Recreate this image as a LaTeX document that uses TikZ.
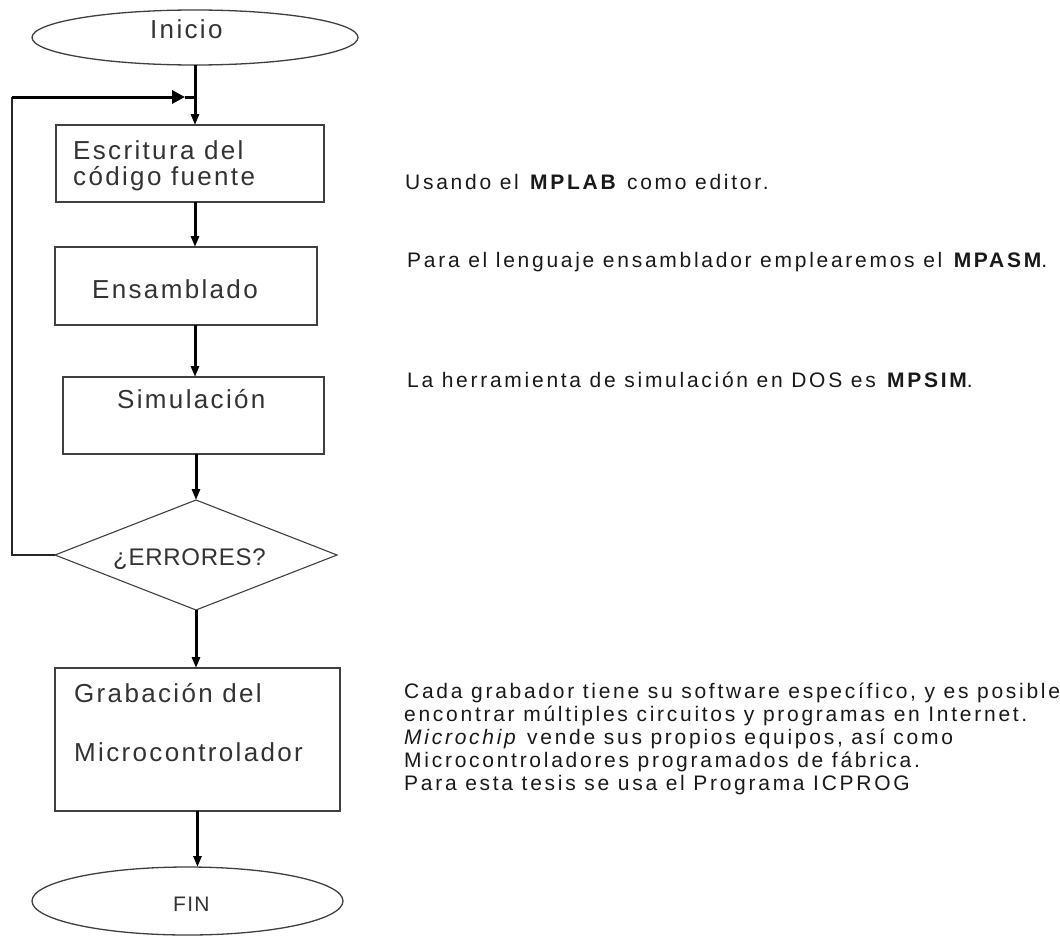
\documentclass[tikz,border=0pt]{standalone}
\usepackage{fontspec}
\usetikzlibrary{arrows.meta,shapes.geometric}
% Arial-metric sans with the wide tracking of the original printout
\newfontfamily\sidefont[LetterSpace=13]{Liberation Sans}
\newfontfamily\boxfont[LetterSpace=9]{Liberation Sans}
\newfontfamily\askfont[LetterSpace=3]{Liberation Sans}
\newfontfamily\endfont[LetterSpace=6]{Liberation Sans}

\begin{document}
\begin{tikzpicture}[x=1pt,y=-1pt,
  shapeline/.style={draw=black!75, line width=1.3pt},
  stepbox/.style={shapeline, rectangle, inner sep=0pt, outer sep=0pt},
  term/.style={shapeline, ellipse, inner sep=0pt, outer sep=0pt},
  ask/.style={shapeline, diamond, line width=1.1pt, inner sep=0pt, outer sep=0pt},
  boxtext/.style={anchor=base west, inner sep=0pt, text=black!80,
    font=\boxfont\fontsize{26}{28}\selectfont},
  asktext/.style={anchor=base west, inner sep=0pt, text=black!80,
    font=\askfont\fontsize{24}{26}\selectfont},
  endtext/.style={anchor=base west, inner sep=0pt, text=black!80,
    font=\endfont\fontsize{21}{23}\selectfont},
  sidetext/.style={anchor=base west, inner sep=0pt, text=black!90,
    font=\sidefont\fontsize{21}{23}\selectfont},
  flow/.style={draw=black, line width=3pt, -{Triangle[length=11pt,width=8pt]}},
  backflow/.style={draw=black, line width=3pt, -{Triangle[length=13pt,width=13pt]}},
  spine/.style={draw=black, line width=3pt},
  loopline/.style={draw=black!85, line width=1.4pt}
]
\useasboundingbox (0,0) rectangle (1060,937);
\fill[white] (0,0) rectangle (1060,937);

% flowchart shapes
\node[term, minimum width=326pt, minimum height=55pt] (inicio) at (195,37.5) {};
\node[stepbox, minimum width=268pt, minimum height=77pt] (b1) at (190,163.5) {};
\node[stepbox, minimum width=262pt, minimum height=78pt] (b2) at (186,286) {};
\node[stepbox, minimum width=261pt, minimum height=77pt] (b3) at (193.5,415.5) {};
\node[ask, minimum width=282pt, minimum height=110pt] (dia) at (196,555) {};
\node[stepbox, minimum width=285pt, minimum height=143pt] (b5) at (197.5,739.5) {};
\node[term, minimum width=311pt, minimum height=68pt] (fin) at (187.5,901) {};

% labels inside the shapes
\node[boxtext] (t0) at (150,38) {Inicio};
\node[boxtext] (t1a) at (73,159) {Escritura del};
\node[boxtext] (t1b) at (73,185) {código fuente};
\node[boxtext] (t2) at (92,298) {Ensamblado};
\node[boxtext] (t3) at (117,408) {Simulación};
\node[asktext] (t4) at (113,565) {¿ERRORES?};
\node[boxtext] (t5a) at (74,702) {Grabación del};
\node[boxtext] (t5b) at (74,761) {Microcontrolador};
\node[endtext] (t6) at (173,911) {FIN};

% main flow
\coordinate (j) at (195,97);
\coordinate (lp) at (12,97);
\coordinate (tip) at (185,97);
\draw[flow] (inicio.south) -- (inicio.south |- b1.north);
\draw[flow] (b1.south -| inicio.south) -- (b2.north -| inicio.south);
\draw[flow] (b2.south -| inicio.south) -- (b3.north -| inicio.south);
\draw[flow] (b3.south -| dia.north) -- (dia.north);
\draw[flow] (dia.south) -- (dia.south |- b5.north);
\draw[flow] (b5.south) -- (b5.south |- fin.north);

% return path when there are errors
\draw[loopline] (dia.west) -| (lp);
\draw[backflow] (lp) -- (tip);
\draw[spine] (tip) -- (j);

% notes on the right
\node[sidetext] (n1) at (405,189) {Usando el \textbf{MPLAB} como editor.};
\node[sidetext] (n2) at (407,267) {Para el lenguaje ensamblador emplearemos el \textbf{MPASM}.};
\node[sidetext] (n3) at (407,387) {La herramienta de simulación en DOS es \textbf{MPSIM}.};
\node[sidetext] (n4a) at (404,698) {Cada grabador tiene su software específico, y es posible};
\node[sidetext] (n4b) at (404,721) {encontrar múltiples circuitos y programas en Internet.};
\node[sidetext] (n4c) at (404,744) {\textit{Microchip} vende sus propios equipos, así como};
\node[sidetext] (n4d) at (404,767) {Microcontroladores programados de fábrica.};
\node[sidetext] (n4e) at (404,790) {Para esta tesis se usa el Programa ICPROG};
\end{tikzpicture}
\end{document}
